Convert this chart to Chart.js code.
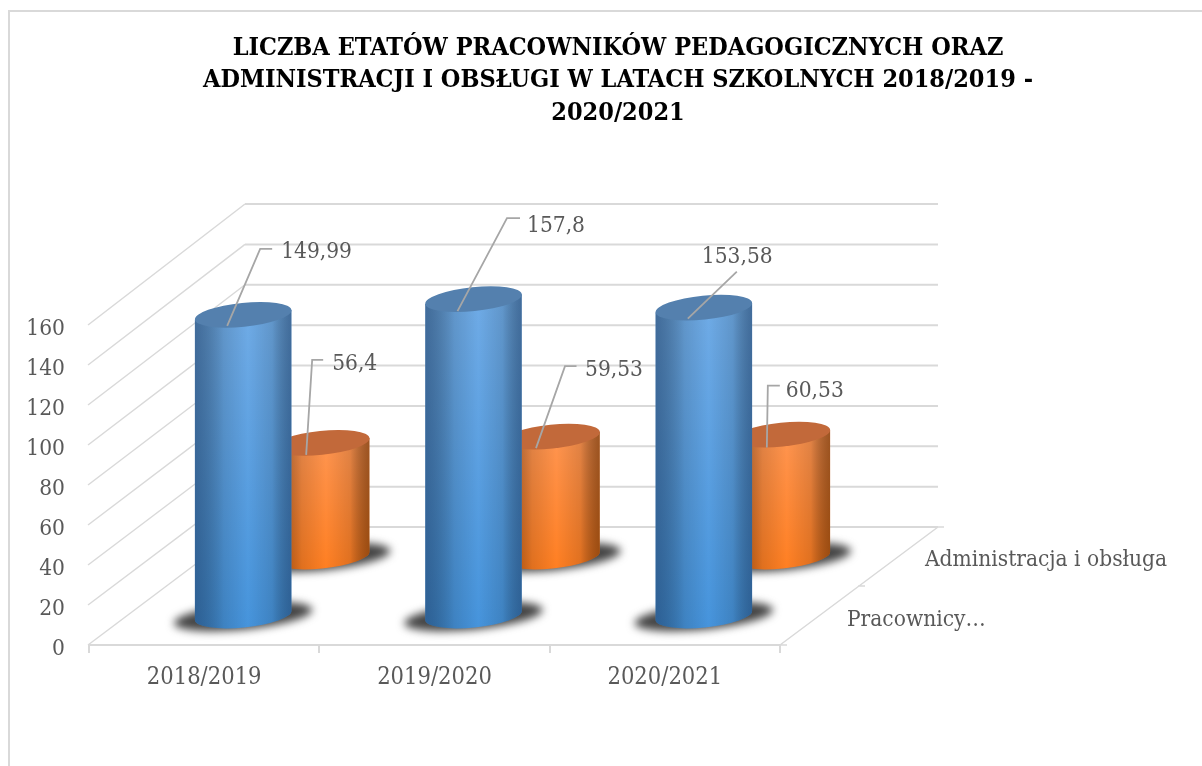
<!DOCTYPE html>
<html lang="pl">
<head>
<meta charset="utf-8">
<title>Liczba etatów</title>
<script src="https://cdn.jsdelivr.net/npm/chart.js@4"></script>
<style>
  html, body { margin: 0; padding: 0; background: #fff; overflow: hidden; }
  canvas { display: block; }
</style>
</head>
<body>
<!-- wider than the window on purpose: the title is centred right of the page middle -->
<canvas id="chart" width="1236" height="766"></canvas>
<script>
const categories = ['2018/2019', '2019/2020', '2020/2021'];
const pracownicy = [149.99, 157.8, 153.58];
const administracja = [56.4, 59.53, 60.53];
const seriesLabels = ['Pracownicy…', 'Administracja i obsługa'];
const titleLines = [
  'LICZBA ETATÓW PRACOWNIKÓW PEDAGOGICZNYCH ORAZ',
  'ADMINISTRACJI I OBSŁUGI W LATACH SZKOLNYCH 2018/2019 -',
  '2020/2021'
];

const font = 'DejaVu Serif Condensed';
const textColor = '#595959';
const gridColor = '#d9d9d9';

// 3D box: how far the back wall sits from the front plane
const depthX = 156, depthY = 118, depthGrow = 3;
const maxValue = 160;

// leader lines relative to the cylinder top: start, elbow, end x, text x, text y
const leadersFront = [
  [-16, 11, 17, -66, 29, 38, -62.5],
  [-16, 12, 33.5, -81, 46.5, 53.5, -73.5],
  [-16, 11, 33, -36, 33, -2, -50.5]
];
const leadersBack = [
  [-15, 12, -9, -83, 2, 11, -78.5],
  [-15.5, 11.5, 13.5, -70.5, 25, 33.5, -66],
  [-15, 13, -14, -49, -2, 4, -43.5]
];

const looks = {
  front: { top: '#5480ae', upper: '#6fabe6', lower: '#4694dc', edge: 'rgba(20,45,80,0.5)' },
  back: { top: '#c2693a', upper: '#ff9550', lower: '#ff7f22', edge: 'rgba(90,40,0,0.6)' }
};

const rx = 48.5, ry = 12, tilt = -0.1;

function project(chart, i, v, d) {
  const { x, y } = chart.scales;
  return {
    x: x.getPixelForValue(i) + d * depthX,
    y: y.getPixelForValue(v) - d * (depthY + depthGrow * v / maxValue)
  };
}

function drawShadow(ctx, c) {
  ctx.save();
  ctx.filter = 'blur(4px)';
  ctx.fillStyle = '#444';
  ctx.beginPath();
  ctx.ellipse(c.x, c.y + 1, rx + 21, ry + 1, tilt, 0, Math.PI * 2);
  ctx.fill();
  ctx.restore();
}

function drawCylinder(ctx, top, base, look) {
  const ex = rx * Math.cos(tilt), ey = rx * Math.sin(tilt);
  ctx.save();
  ctx.beginPath();
  ctx.moveTo(top.x - ex, top.y - ey);
  ctx.lineTo(base.x - ex, base.y - ey);
  ctx.ellipse(base.x, base.y, rx, ry, tilt, Math.PI, 0, true);
  ctx.lineTo(top.x + ex, top.y + ey);
  ctx.closePath();
  const v = ctx.createLinearGradient(0, top.y, 0, base.y + ry);
  v.addColorStop(0, look.upper);
  v.addColorStop(1, look.lower);
  ctx.fillStyle = v;
  ctx.fill();
  const h = ctx.createLinearGradient(top.x - rx, 0, top.x + rx, 0);
  h.addColorStop(0, look.edge);
  h.addColorStop(0.3, 'rgba(0,0,0,0.12)');
  h.addColorStop(0.55, 'rgba(0,0,0,0)');
  h.addColorStop(0.8, 'rgba(0,0,0,0.12)');
  h.addColorStop(1, look.edge);
  ctx.fillStyle = h;
  ctx.fill();
  ctx.fillStyle = look.top;
  ctx.beginPath();
  ctx.ellipse(top.x, top.y, rx, ry, tilt, 0, Math.PI * 2);
  ctx.fill();
  ctx.restore();
}

function drawLeader(ctx, c, l, text) {
  ctx.strokeStyle = '#a6a6a6';
  ctx.lineWidth = 1.8;
  ctx.beginPath();
  ctx.moveTo(c.x + l[0], c.y + l[1]);
  ctx.lineTo(c.x + l[2], c.y + l[3]);
  ctx.lineTo(c.x + l[4], c.y + l[3]);
  ctx.stroke();
  ctx.fillStyle = textColor;
  ctx.font = '22.5px "' + font + '"';
  ctx.textAlign = 'left';
  ctx.textBaseline = 'middle';
  ctx.fillText(text, c.x + l[5], c.y + l[6]);
}

const frame3d = {
  id: 'frame3d',
  beforeDraw(chart) {
    const ctx = chart.ctx;
    ctx.save();
    ctx.strokeStyle = gridColor;
    ctx.lineWidth = 2;
    ctx.beginPath();
    ctx.moveTo(9, 766);
    ctx.lineTo(9, 11);
    ctx.lineTo(1236, 11);
    ctx.stroke();
    ctx.restore();
  },
  beforeDatasetsDraw(chart) {
    const ctx = chart.ctx, { x, y } = chart.scales;
    const left = x.left, right = x.right, floor = y.getPixelForValue(0);
    ctx.save();
    ctx.strokeStyle = gridColor;
    y.ticks.forEach(t => {
      const p = y.getPixelForValue(t.value);
      const back = p - depthY - depthGrow * t.value / maxValue;
      ctx.lineWidth = 1.5;
      ctx.beginPath();
      ctx.moveTo(left - 1, p);
      ctx.lineTo(left + depthX, back);
      ctx.stroke();
      ctx.lineWidth = 2;
      ctx.beginPath();
      ctx.moveTo(left + depthX, back);
      ctx.lineTo(right + depthX + 2, back);
      ctx.stroke();
    });
    // floor edge on the right with its small ticks
    ctx.lineWidth = 1.5;
    ctx.beginPath();
    ctx.moveTo(right, floor);
    ctx.lineTo(right + depthX + 2, floor - depthY);
    ctx.moveTo(right, floor);
    ctx.lineTo(right + 7, floor);
    ctx.moveTo(right + depthX / 2, floor - depthY / 2);
    ctx.lineTo(right + depthX / 2 + 7, floor - depthY / 2);
    ctx.moveTo(right + depthX, floor - depthY);
    ctx.lineTo(right + depthX + 8, floor - depthY);
    ctx.stroke();
    ctx.fillStyle = textColor;
    ctx.font = '22.5px "' + font + '"';
    ctx.textAlign = 'left';
    ctx.textBaseline = 'middle';
    ctx.fillText(seriesLabels[0], right + depthX * 0.25 + 28, floor - depthY * 0.25 + 4.5);
    ctx.fillText(seriesLabels[1], right + depthX * 0.75 + 28, floor - depthY * 0.75 + 3.5);
    ctx.restore();
  },
  afterDatasetsDraw(chart) {
    const ctx = chart.ctx;
    ctx.save();
    const layers = [
      { values: administracja, d: 0.75, look: looks.back, leaders: leadersBack },
      { values: pracownicy, d: 0.25, look: looks.front, leaders: leadersFront }
    ];
    layers.forEach(s => s.values.forEach((v, i) => {
      const base = project(chart, i, 0, s.d), top = project(chart, i, v, s.d);
      drawShadow(ctx, base);
      drawCylinder(ctx, top, base, s.look);
    }));
    layers.forEach(s => s.values.forEach((v, i) => {
      drawLeader(ctx, project(chart, i, v, s.d), s.leaders[i], String(v).replace('.', ','));
    }));
    ctx.restore();
  }
};

new Chart(document.getElementById('chart'), {
  type: 'bar',
  data: {
    labels: categories,
    datasets: [
      { label: seriesLabels[0], data: pracownicy, backgroundColor: 'transparent' },
      { label: seriesLabels[1], data: administracja, backgroundColor: 'transparent' }
    ]
  },
  plugins: [frame3d],
  options: {
    responsive: false,
    animation: false,
    plugins: {
      legend: { display: false },
      tooltip: { enabled: false },
      title: {
        display: true,
        text: titleLines,
        color: '#000',
        font: { family: font, size: 25, weight: 'bold', lineHeight: '32.5px' },
        padding: { top: 32, bottom: 195.5 }
      }
    },
    scales: {
      x: {
        grid: { color: gridColor, lineWidth: 2, drawOnChartArea: false, tickLength: 8 },
        border: { color: gridColor, width: 2 },
        ticks: { color: textColor, font: { family: font, size: 23.5 }, padding: 11 },
        afterFit(s) { s.height = 121; }
      },
      y: {
        min: 0,
        max: maxValue,
        grid: { display: false },
        border: { display: false },
        ticks: { stepSize: 20, color: textColor, font: { family: font, size: 22.5 }, padding: 16, labelOffset: 4 },
        afterFit(s) { s.width = 89; }
      },
      // empty axis, keeps the room on the right of the plot
      y2: {
        position: 'right',
        min: 0,
        max: maxValue,
        grid: { display: false },
        border: { display: false },
        ticks: { display: false },
        afterFit(s) { s.width = 456; }
      }
    }
  }
});
</script>
</body>
</html>
